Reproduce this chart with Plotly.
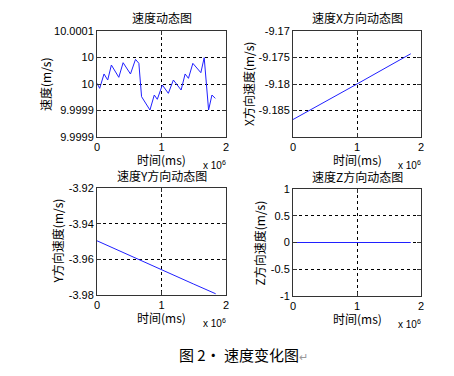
import plotly.graph_objects as go

# ---------------- data ----------------
time_speed = [0, 0.0416e6, 0.109e6, 0.166e6, 0.223e6, 0.338e6, 0.405e6, 0.519e6, 0.597e6,
              0.649e6, 0.691e6, 0.821e6, 0.888e6, 0.935e6, 1.013e6, 1.106e6, 1.184e6,
              1.304e6, 1.366e6, 1.418e6, 1.486e6, 1.610e6, 1.662e6, 1.730e6, 1.782e6, 1.834e6]
speed = [10.0000013, 9.9999918, 10.0000189, 10.0000075, 10.0000358, 10.0000126, 10.0000402,
         10.0000189, 10.0000465, 10.0000390, 9.9999761, 9.9999509, 9.9999792, 9.9999711,
         9.9999981, 9.9999824, 10.0000075, 9.9999887, 10.0000189, 10.0000107, 10.0000390,
         10.0000214, 10.0000497, 9.9999509, 9.9999792, 9.9999729]

time_xyz = [0, 0.5e6, 1.0e6, 1.5e6, 1.84e6]
vel_x = [-9.1867, -9.1834, -9.1800, -9.1766, -9.1743]
vel_y = [-3.9496, -3.9578, -3.9659, -3.9739, -3.9793]
vel_z = [0, 0, 0, 0, 0]

x_tickvals = [0, 1e6, 2e6]
x_ticktext = ["0", "1", "2"]

speed_ticks = [9.9999, 9.99995, 10.0, 10.00005, 10.0001]
speed_ticktext = ["9.9999", "9.9999", "10", "10", "10.0001"]
vx_ticks = [-9.185, -9.18, -9.175, -9.17]
vx_ticktext = ["-9.185", "-9.18", "-9.175", "-9.17"]
vy_ticks = [-3.98, -3.96, -3.94, -3.92]
vy_ticktext = ["-3.98", "-3.96", "-3.94", "-3.92"]
vz_ticks = [-1, -0.5, 0, 0.5, 1]
vz_ticktext = ["-1", "-0.5", "0", "0.5", "1"]

titles = ["速度动态图", "速度X方向动态图", "速度Y方向动态图", "速度Z方向动态图"]
ytitles = ["速度(m/s)", "X方向速度(m/s)", "Y方向速度(m/s)", "Z方向速度(m/s)"]
xtitle = "时间(ms)"
caption = "图 2· 速度变化图"

# ---------------- layout helpers ----------------
W, H = 454, 376
OFF = 8  # page body margin of the browser
FONT = "Arial, Liberation Sans, Noto Sans CJK SC, sans-serif"
CJK = "Noto Sans CJK SC, Arial, sans-serif"

def px_x(p):
    return (p - OFF) / W

def px_y(p):
    return 1 - (p - OFF) / H

# plot area boxes in pixels: (left, right, top, bottom)
boxes = [(97, 226, 31, 137), (293, 421, 31, 137), (97, 226, 188, 295), (293, 421, 189, 296)]

fig = go.Figure()
series = [(time_speed, speed), (time_xyz, vel_x), (time_xyz, vel_y), (time_xyz, vel_z)]
yranges = [[9.9999, 10.0001], [-9.19, -9.17], [-3.98, -3.92], [-1, 1]]
yticks = [(speed_ticks, speed_ticktext), (vx_ticks, vx_ticktext), (vy_ticks, vy_ticktext), (vz_ticks, vz_ticktext)]

layout = dict(width=W, height=H, margin=dict(l=0, r=0, t=0, b=0, pad=0, autoexpand=False),
              paper_bgcolor="white", plot_bgcolor="white", showlegend=False,
              font=dict(family=FONT, size=11, color="black"))
annotations = []

for i, ((xs, ys), box) in enumerate(zip(series, boxes)):
    n = "" if i == 0 else str(i + 1)
    fig.add_trace(go.Scatter(x=xs, y=ys, mode="lines", line=dict(color="#2020ff", width=1),
                             xaxis="x" + n, yaxis="y" + n, hoverinfo="skip"))
    l, r, t, b = box
    common = dict(showline=True, mirror="allticks", linecolor="#333333", linewidth=1,
                  ticks="inside", ticklen=4, tickcolor="#333333", automargin=False,
                  showgrid=True, gridcolor="black", griddash="dot", gridwidth=1,
                  zeroline=False, tickfont=dict(family=FONT, size=11, color="black"))
    layout["xaxis" + n] = dict(domain=[px_x(l), px_x(r)], anchor="y" + n, range=[0, 2e6],
                               tickvals=x_tickvals, ticktext=x_ticktext, **common)
    layout["yaxis" + n] = dict(domain=[px_y(b), px_y(t)], anchor="x" + n, range=yranges[i],
                               tickvals=yticks[i][0], ticktext=yticks[i][1], **common)
    cx = (l + r) / 2
    # title
    annotations.append(dict(x=px_x(cx), y=px_y(t - 13), xref="paper", yref="paper",
                            text=titles[i], showarrow=False, xanchor="center", yanchor="middle",
                            font=dict(family=CJK, size=12, color="black")))
    # x title
    annotations.append(dict(x=px_x(cx), y=px_y(b + 22), xref="paper", yref="paper",
                            text=xtitle, showarrow=False, xanchor="center", yanchor="middle",
                            font=dict(family=CJK, size=12, color="black")))
    # exponent
    annotations.append(dict(x=px_x(r - 12), y=px_y(b + 28), xref="paper", yref="paper",
                            text="x 10<sup>6</sup>", showarrow=False, xanchor="center", yanchor="middle",
                            font=dict(family=FONT, size=10, color="black")))

ytitle_x = [45, 248, 57, 259]
for i, box in enumerate(boxes):
    l, r, t, b = box
    annotations.append(dict(x=px_x(ytitle_x[i]), y=px_y((t + b) / 2), xref="paper", yref="paper",
                            text=ytitles[i], showarrow=False, textangle=-90,
                            xanchor="center", yanchor="middle",
                            font=dict(family=CJK, size=12, color="black")))

annotations.append(dict(x=px_x(243), y=px_y(354), xref="paper", yref="paper",
                        text=caption + "<span style='color:#999999;font-size:11px'>↵</span>",
                        showarrow=False, xanchor="center", yanchor="middle",
                        font=dict(family=CJK, size=15, color="black")))

layout["annotations"] = annotations
fig.update_layout(**layout)
fig.write_html("out.html")
